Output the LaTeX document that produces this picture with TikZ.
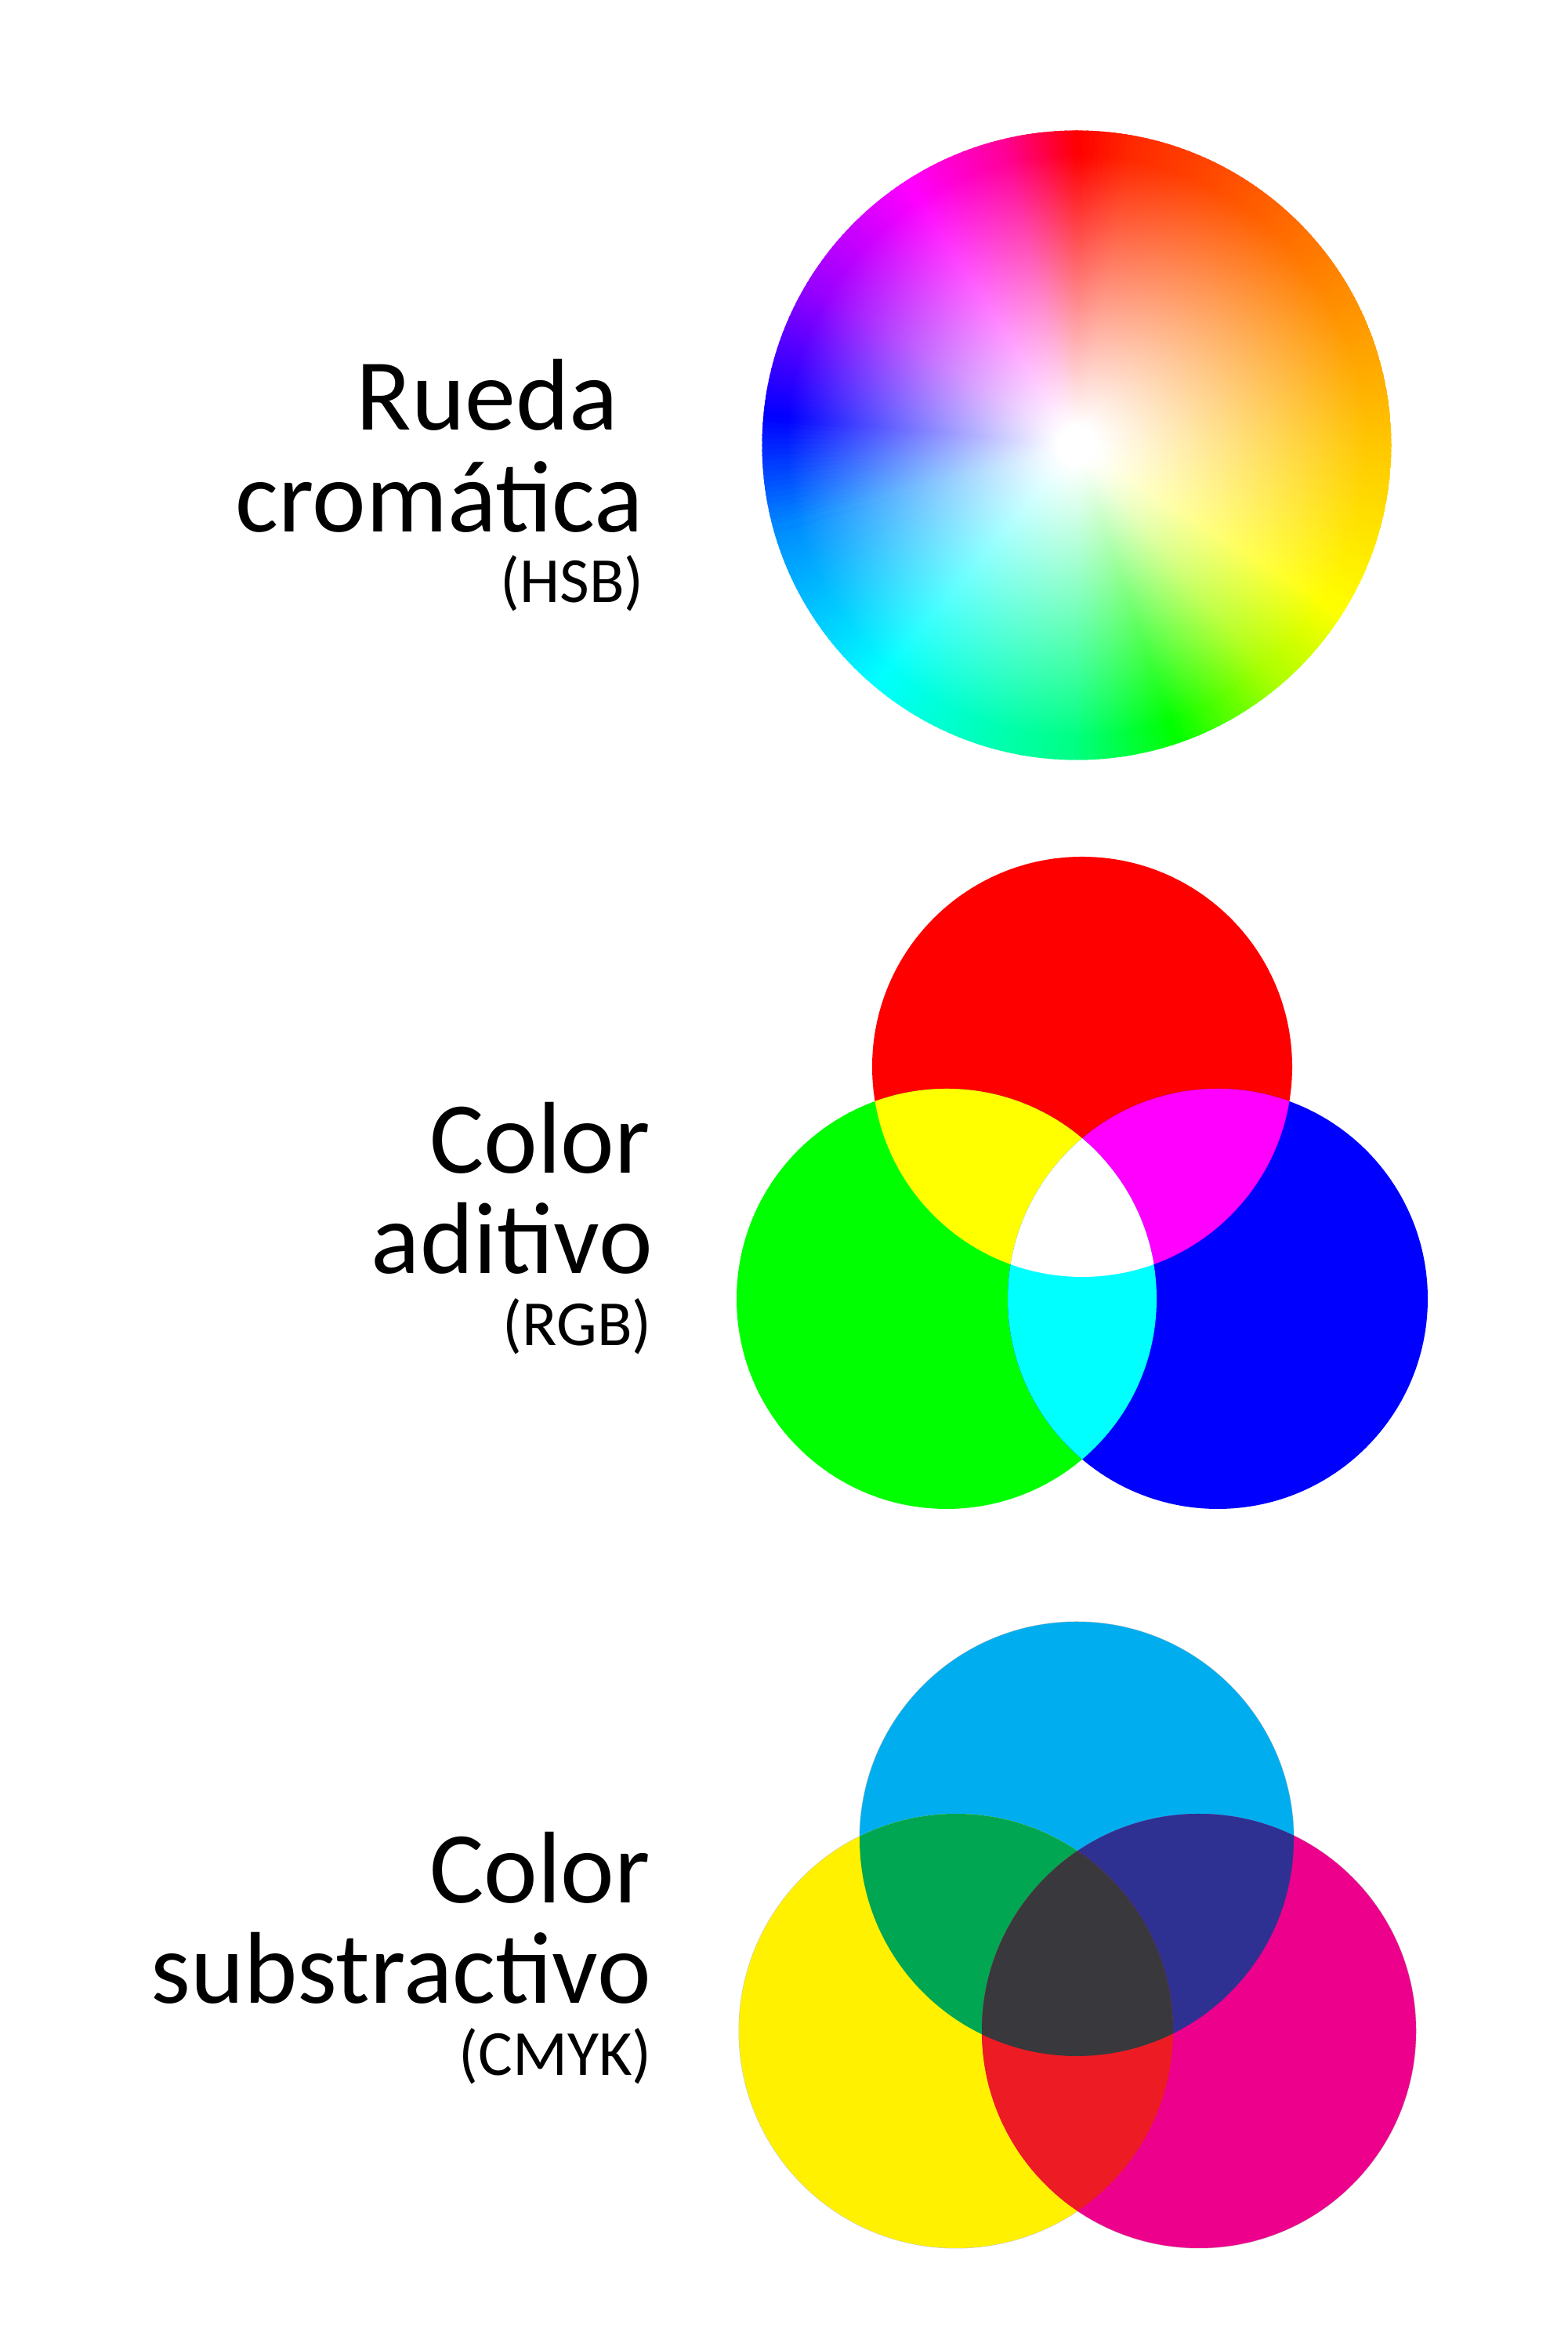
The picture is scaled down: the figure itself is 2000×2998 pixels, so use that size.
\documentclass[tikz,border=0pt]{standalone}
\usepackage{fontspec}
\setmainfont{Carlito}
\usetikzlibrary{fadings}

% hue stops of the wheel
\definecolor{hSky}{RGB}{0,140,255}
\definecolor{hCyan}{RGB}{0,255,255}
\definecolor{hSpring}{RGB}{0,255,130}
\definecolor{hGreen}{RGB}{0,255,0}
\definecolor{hChart}{RGB}{170,255,0}
\definecolor{hYellow}{RGB}{255,255,0}
\definecolor{hAmber}{RGB}{255,200,0}
\definecolor{hOrange}{RGB}{255,110,0}
\definecolor{hRedOr}{RGB}{255,40,0}
\definecolor{hRed}{RGB}{255,0,0}
\definecolor{hRose}{RGB}{255,0,150}
\definecolor{hMagenta}{RGB}{255,0,255}
\definecolor{hViolet}{RGB}{150,0,255}
\definecolor{hBlue}{RGB}{0,0,255}

% additive
\definecolor{aR}{RGB}{255,0,0}
\definecolor{aG}{RGB}{0,255,0}
\definecolor{aB}{RGB}{0,0,255}
\definecolor{aY}{RGB}{255,255,0}
\definecolor{aM}{RGB}{255,0,255}
\definecolor{aC}{RGB}{0,255,255}

% subtractive
\definecolor{sC}{RGB}{0,174,239}
\definecolor{sY}{RGB}{255,241,0}
\definecolor{sM}{RGB}{236,0,140}
\definecolor{sG}{RGB}{0,166,81}
\definecolor{sB}{RGB}{46,49,146}
\definecolor{sR}{RGB}{237,28,36}
\definecolor{sK}{RGB}{57,56,60}

\pgfdeclareradialshading{whfadeshade}{\pgfpointorigin}{color(0bp)=(white); color(1.5bp)=(white); color(23bp)=(black); color(50bp)=(black)}
\pgfdeclarefading{whfade}{\pgfuseshading{whfadeshade}}

\newcommand\wheelseg[4]{%
  \pgfmathtruncatemacro\wsn{#2-(#1)}%
  \foreach \k in {1,...,\wsn}{%
    \pgfmathsetmacro\wst{100*(\k-0.5)/\wsn}%
    \pgfmathsetmacro\wsa{#1+\k-0.5}%
    \fill[#4!\wst!#3] (wc) -- ++(\wsa-0.8:402pt)
      arc[start angle=\wsa-0.8, end angle=\wsa+0.8, radius=402pt] -- cycle;
  }%
}

\tikzset{
  bigtxt/.style={anchor=base east, inner sep=0pt, text=black,
    font=\fontsize{130}{130}\selectfont},
  smalltxt/.style={anchor=base east, inner sep=0pt, text=black,
    font=\fontsize{82}{82}\selectfont},
  rim/.style={draw=gray!45, line width=1pt}
}

\begin{document}
\begin{tikzpicture}[x=1pt,y=1pt]
\useasboundingbox (0,0) rectangle (2000,2998);
\fill[white] (0,0) rectangle (2000,2998);

% ---------- HSB wheel ----------
\coordinate (wc) at (1374,2430);
\begin{scope}
\clip (wc) circle (401.5pt);
\wheelseg{-164}{-130}{hSky}{hCyan}
\wheelseg{-130}{-90}{hCyan}{hSpring}
\wheelseg{-90}{-71}{hSpring}{hGreen}
\wheelseg{-71}{-50}{hGreen}{hChart}
\wheelseg{-50}{-32}{hChart}{hYellow}
\wheelseg{-32}{0}{hYellow}{hAmber}
\wheelseg{0}{45}{hAmber}{hOrange}
\wheelseg{45}{80}{hOrange}{hRedOr}
\wheelseg{80}{90}{hRedOr}{hRed}
\wheelseg{90}{104}{hRed}{hRose}
\wheelseg{104}{123}{hRose}{hMagenta}
\wheelseg{123}{150}{hMagenta}{hViolet}
\wheelseg{150}{175}{hViolet}{hBlue}
\wheelseg{175}{196}{hBlue}{hSky}
\fill[white, path fading=whfade] (wc) circle (402pt);
\end{scope}

\node[bigtxt] (t1a) at (789,2449) {Rueda};
\node[bigtxt] (t1b) at (821,2319) {cromática};
\node[smalltxt] (t1c) at (822,2229) {(HSB)};

% ---------- additive RGB ----------
\coordinate (cr) at (1381,1637);
\coordinate (cg) at (1208,1341);
\coordinate (cb) at (1554,1341);
\def\ra{268pt}
\fill[aR] (cr) circle (\ra);
\fill[aG] (cg) circle (\ra);
\fill[aB] (cb) circle (\ra);
\begin{scope}\clip (cr) circle (\ra); \fill[aY] (cg) circle (\ra);\end{scope}
\begin{scope}\clip (cr) circle (\ra); \fill[aM] (cb) circle (\ra);\end{scope}
\begin{scope}\clip (cg) circle (\ra); \fill[aC] (cb) circle (\ra);\end{scope}
\begin{scope}\clip (cr) circle (\ra); \clip (cg) circle (\ra); \fill[white] (cb) circle (\ra);\end{scope}

\node[bigtxt] (t2a) at (830,1501) {Color};
\node[bigtxt] (t2b) at (833,1373) {aditivo};
\node[smalltxt] (t2c) at (832,1281) {(RGB)};

% ---------- subtractive CMYK ----------
\coordinate (sc) at (1374,652);
\coordinate (sy) at (1220,407);
\coordinate (sm) at (1530,407);
\def\rs{277pt}
\draw[rim] (sc) circle (\rs);
\draw[rim] (sy) circle (\rs);
\draw[rim] (sm) circle (\rs);
\fill[sC] (sc) circle (\rs);
\fill[sY] (sy) circle (\rs);
\fill[sM] (sm) circle (\rs);
\begin{scope}\clip (sc) circle (\rs); \fill[sG] (sy) circle (\rs);\end{scope}
\begin{scope}\clip (sc) circle (\rs); \fill[sB] (sm) circle (\rs);\end{scope}
\begin{scope}\clip (sy) circle (\rs); \fill[sR] (sm) circle (\rs);\end{scope}
\begin{scope}\clip (sc) circle (\rs); \clip (sy) circle (\rs); \fill[sK] (sm) circle (\rs);\end{scope}

\node[bigtxt] (t3a) at (830,570) {Color};
\node[bigtxt] (t3b) at (831,442) {substractivo};
\node[smalltxt] (t3c) at (832,350) {(CMYK)};
\end{tikzpicture}
\end{document}
